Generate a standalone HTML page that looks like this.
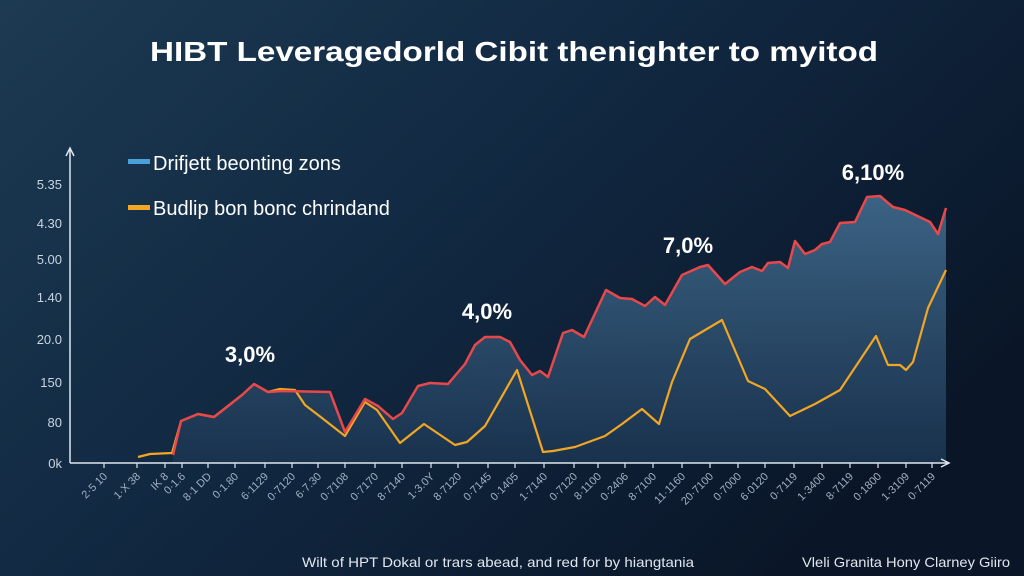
<!DOCTYPE html>
<html><head><meta charset="utf-8">
<style>
html,body{margin:0;padding:0;width:1024px;height:576px;overflow:hidden;background:#0c1a2d;}
svg{display:block;font-family:"Liberation Sans",sans-serif;}
</style></head>
<body>
<svg id="chart" width="1024" height="576" viewBox="0 0 1024 576">
<defs>
<linearGradient id="bg" x1="0" y1="0" x2="1" y2="0.6">
<stop offset="0" stop-color="#1c3a52"/>
<stop offset="0.5" stop-color="#112841"/>
<stop offset="1" stop-color="#0a1628"/>
</linearGradient>
<linearGradient id="area" x1="0" y1="0" x2="0" y2="1">
<stop offset="0" stop-color="#3e6688" stop-opacity="0.95"/>
<stop offset="1" stop-color="#1a3450" stop-opacity="0.9"/>
</linearGradient>
</defs>
<rect width="1024" height="576" fill="url(#bg)"/>
<text x="514" y="61" text-anchor="middle" fill="#fff" font-weight="bold" font-size="28" textLength="728" lengthAdjust="spacingAndGlyphs">HIBT Leveragedorld Cibit thenighter to myitod</text>
<g id="plot"></g>
<g>
<rect x="128" y="159" width="22" height="5" fill="#4aa0d8"/>
<text x="153" y="170" fill="#fff" font-size="20">Drifjett beonting zons</text>
<rect x="128" y="205" width="22" height="5" fill="#f2a623"/>
<text x="153" y="215" fill="#fff" font-size="20">Budlip bon bonc chrindand</text>
</g>
<text x="302" y="567" fill="#e0e6ee" font-size="14" textLength="392" lengthAdjust="spacingAndGlyphs">Wilt of HPT Dokal or trars abead, and red for by hiangtania</text>
<text x="802" y="567" fill="#e0e6ee" font-size="14" textLength="208" lengthAdjust="spacingAndGlyphs">Vleli Granita Hony Clarney Giiro</text>
</svg>
<script>
const redDays=[103,111,128,144,172,184,198,212,260,275,295,308,323,332,348,360,378,395,405,415,430,440,450,462,470,478,493,502,514,536,550,562,575,585,595,612,630,638,655,670,682,692,698,710,718,725,735,745,752,760,770,785,797,810,823,835,860,868,876];
const redValues=[8,42,49,46,68,79,71,72,71,31,64,57,44,50,77,80,79,99,118,126,126,121,103,88,92,86,130,133,126,173,165,164,157,166,158,188,196,198,179,191,196,192,200,201,195,222,209,213,219,221,240,241,266,267,256,253,241,229,255];
const yelDays=[68,80,102,111,128,144,172,184,198,210,225,235,252,275,295,307,330,354,385,397,415,447,473,483,505,535,552,572,589,602,620,652,678,695,720,745,770,806,818,830,836,843,858,876];
const yelValues=[6,9,10,42,49,46,68,79,71,74,73,58,45,27,61,53,20,39,18,21,37,93,11,12,16,27,39,54,39,81,124,143,82,74,47,59,73,127,98,98,93,101,155,193];
const yTickLabels=["0k","80","150","20.0","1.40","5.00","4.30","5.35"];
const yTickValues=[0,41,81,124,166,204,240,279];
const xTickLabels=["2·5 10","1·X 38","IK 8","0·1.6","8·1 DD","0·1.80","6·1129","0·7120","6·7.30","0·7108","0·7170","8·7140","1·3.0Y","8·7120","0·7145","0·1405","1·7140","0·7120","8·1100","0·2406","8·7100","11·1160","20·7100","0·7000","6·0120","0·7119","1·3400","8·7119","0·1800","1·3109","0·7119"];
const xTickDays=[34,67,95,112,138,165,195,222,248,275,305,332,361,388,418,445,474,504,528,555,583,612,640,668,695,724,752,780,808,836,862];
const annTexts=["3,0%","4,0%","7,0%","6,10%"];
const annDays=[180,417,618,803];
const annValues=[101,144,210,283];

const X0=70,X1=948,Y0=463,Y1=150;
const xs=d=>X0+(d/878)*(X1-X0);
const ys=v=>Y0-(v/313)*(Y0-Y1);
const NS="http://www.w3.org/2000/svg";
const g=document.getElementById('plot');
function mk(t,a){const e=document.createElementNS(NS,t);for(const k in a)e.setAttribute(k,a[k]);g.appendChild(e);return e;}

let dA=`M${xs(redDays[0])},${Y0} `+redDays.map((d,i)=>`L${xs(d)},${ys(redValues[i])}`).join(' ')+` L${xs(redDays[redDays.length-1])},${Y0} Z`;
const area=mk('path',{d:dA,fill:'url(#area)'});



const yl=mk('polyline',{points:yelDays.map((d,i)=>xs(d)+','+ys(yelValues[i])).join(' '),fill:'none',stroke:'#f2a623','stroke-width':2.2,'stroke-linejoin':'round'});


const rl=mk('polyline',{points:redDays.map((d,i)=>xs(d)+','+ys(redValues[i])).join(' '),fill:'none',stroke:'#e8484a','stroke-width':2.5,'stroke-linejoin':'round'});



const ya=mk('path',{d:`M${X0},${Y0} L${X0},150 M${X0-4},156 L${X0},148 L${X0+4},156`,stroke:'#dfe6ee','stroke-width':1.5,fill:'none'});


const xa=mk('path',{d:`M${X0},${Y0} L948,${Y0} M941,${Y0-4} L949,${Y0} L941,${Y0+4}`,stroke:'#dfe6ee','stroke-width':1.5,fill:'none'});



yTickLabels.forEach((l,i)=>{
 const y=ys(yTickValues[i]);
 const t=mk('text',{x:62,y:y+5,'text-anchor':'end',fill:'#c8d4e0','font-size':13});
 t.textContent=l;
 
 
});
xTickLabels.forEach((l,i)=>{
 const x=xs(xTickDays[i]);
 const tk=mk('line',{x1:x,y1:Y0,x2:x,y2:Y0+5,stroke:'#dfe6ee','stroke-width':1.2});
 
 
 const t=mk('text',{x:x+4,y:Y0+14,'text-anchor':'end',fill:'#9fb0c2','font-size':11,transform:`rotate(-45 ${x+4} ${Y0+14})`});
 t.textContent=l;
 
 
});
annTexts.forEach((l,i)=>{
 const t=mk('text',{x:xs(annDays[i]),y:ys(annValues[i]),'text-anchor':'middle',fill:'#fff','font-size':22,'font-weight':'bold'});
 t.textContent=l;
 
 
});
</script>
</body></html>
